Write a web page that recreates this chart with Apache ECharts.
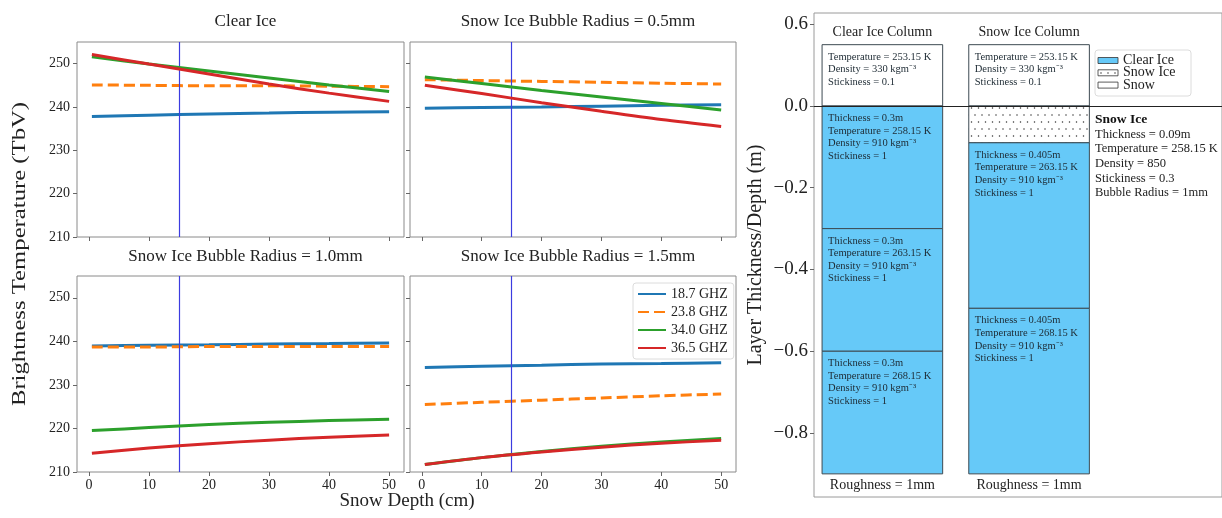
<!DOCTYPE html>
<html>
<head>
<meta charset="utf-8">
<script src="https://cdn.jsdelivr.net/npm/echarts@6/dist/echarts.min.js"></script>
<style>html,body{margin:0;padding:0;background:#fff;}#c{width:1222px;height:518px;}</style>
</head>
<body>
<div id="c"></div>
<script>
// ---------- DATA ----------
const snowDepth = [0.5, 10, 20, 30, 40, 50];
const frequencies = ['18.7 GHZ', '23.8 GHZ', '34.0 GHZ', '36.5 GHZ'];
const panelTitles = ['Clear Ice', 'Snow Ice Bubble Radius = 0.5mm', 'Snow Ice Bubble Radius = 1.0mm', 'Snow Ice Bubble Radius = 1.5mm'];
const tbClearIce = [
  [237.8, 238.1, 238.4, 238.6, 238.8, 238.9],
  [245.1, 245.0, 244.9, 244.9, 244.8, 244.7],
  [251.6, 249.9, 248.3, 246.7, 245.1, 243.6],
  [252.1, 249.9, 247.6, 245.3, 243.2, 241.3]
];
const tbBubble05 = [
  [239.7, 239.9, 240.0, 240.2, 240.4, 240.5],
  [246.3, 246.1, 245.9, 245.7, 245.5, 245.3],
  [246.9, 245.4, 243.8, 242.3, 240.8, 239.3],
  [245.0, 243.1, 241.0, 239.0, 237.1, 235.5]
];
const tbBubble10 = [
  [238.9, 239.1, 239.2, 239.4, 239.5, 239.6],
  [238.7, 238.7, 238.8, 238.8, 238.8, 238.8],
  [219.5, 220.2, 220.9, 221.4, 221.8, 222.1],
  [214.3, 215.5, 216.5, 217.3, 218.0, 218.5]
];
const tbBubble15 = [
  [234.0, 234.3, 234.5, 234.8, 234.9, 235.1],
  [225.5, 226.0, 226.5, 227.0, 227.5, 227.9],
  [211.7, 213.3, 214.7, 215.9, 216.9, 217.7],
  [211.7, 213.3, 214.6, 215.7, 216.6, 217.3]
];
const tbTicks = [210, 220, 230, 240, 250];
const depthTicks = [0, 10, 20, 30, 40, 50];
const snowDepthMarker = 15;

// right panel: layer columns
const columnTitles = ['Clear Ice Column', 'Snow Ice Column'];
const columnFooters = ['Roughness = 1mm', 'Roughness = 1mm'];
const columnTop = [0.15, 0.15];
const columnBottom = [-0.9, -0.9];
const layerColumn = [0, 0, 0, 0, 1, 1, 1, 1];
const layerTop = [0.15, 0, -0.3, -0.6, 0.15, 0, -0.09, -0.495];
const layerBottom = [0, -0.3, -0.6, -0.9, 0, -0.09, -0.495, -0.9];
const layerType = ['snow', 'clear', 'clear', 'clear', 'snow', 'snowice', 'clear', 'clear'];
const layerLabels = [
  'Temperature = 253.15 K\nDensity = 330 kgm\u207B\u00B3\nStickiness = 0.1',
  'Thickness = 0.3m\nTemperature = 258.15 K\nDensity = 910 kgm\u207B\u00B3\nStickiness = 1',
  'Thickness = 0.3m\nTemperature = 263.15 K\nDensity = 910 kgm\u207B\u00B3\nStickiness = 1',
  'Thickness = 0.3m\nTemperature = 268.15 K\nDensity = 910 kgm\u207B\u00B3\nStickiness = 1',
  'Temperature = 253.15 K\nDensity = 330 kgm\u207B\u00B3\nStickiness = 0.1',
  '',
  'Thickness = 0.405m\nTemperature = 263.15 K\nDensity = 910 kgm\u207B\u00B3\nStickiness = 1',
  'Thickness = 0.405m\nTemperature = 268.15 K\nDensity = 910 kgm\u207B\u00B3\nStickiness = 1'
];
const depthTickValues = [0.2, 0, -0.2, -0.4, -0.6, -0.8];
const depthTickLabels = ['0.6', '0.0', '\u22120.2', '\u22120.4', '\u22120.6', '\u22120.8'];
const legendMaterials = ['Clear Ice', 'Snow Ice', 'Snow'];
const snowIceNoteTitle = 'Snow Ice';
const snowIceNoteLines = ['Thickness = 0.09m', 'Temperature = 258.15 K', 'Density = 850', 'Stickiness = 0.3', 'Bubble Radius = 1mm'];

// ---------- STYLE ----------
const FONT = 'Liberation Serif';
const lineColors = ['#1f77b4', '#ff7f0e', '#2ca02c', '#d62728'];
const clearIceColor = '#66c9f8';

// dotted pattern for snow ice
const pat = document.createElement('canvas');
pat.width = 14; pat.height = 14;
(function () {
  const g = pat.getContext('2d');
  g.fillStyle = '#fff'; g.fillRect(0, 0, 14, 14);
  g.fillStyle = '#333';
  [[2, 3], [9, 3], [5.5, 10], [12.5, 10]].forEach(p => { g.beginPath(); g.arc(p[0], p[1], 0.75, 0, Math.PI * 2); g.fill(); });
})();
const dotFill = { type: 'pattern', image: pat, repeat: 'repeat' };
function fillFor(t) { return t === 'clear' ? clearIceColor : (t === 'snowice' ? dotFill : '#ffffff'); }

const panelData = [tbClearIce, tbBubble05, tbBubble10, tbBubble15];
const gridPos = [
  { left: 77, top: 42, width: 327, height: 195 },
  { left: 410, top: 42, width: 326, height: 195 },
  { left: 77, top: 276, width: 327, height: 196 },
  { left: 410, top: 276, width: 326, height: 196 }
];

const grids = [], xAxes = [], yAxes = [], series = [], titles = [];
gridPos.forEach((g, p) => {
  grids.push(Object.assign({ show: true, borderColor: '#8a8a8a', borderWidth: 1, backgroundColor: 'transparent' }, g));
  const bottomRow = p >= 2, leftCol = p % 2 === 0;
  xAxes.push({
    type: 'value', gridIndex: p, min: -1.98, max: 52.48, position: 'bottom',
    axisLine: { show: false, onZero: false }, splitLine: { show: false },
    axisTick: { show: true, inside: false, length: 4, lineStyle: { color: '#666' }, customValues: depthTicks },
    axisLabel: { show: bottomRow, customValues: depthTicks, fontFamily: FONT, fontSize: 14, color: '#222', margin: 6 }
  });
  yAxes.push({
    type: 'value', gridIndex: p, min: 210, max: 255, position: 'left',
    axisLine: { show: false, onZero: false }, splitLine: { show: false },
    axisTick: { show: true, inside: false, length: 4, lineStyle: { color: '#666' }, customValues: tbTicks },
    axisLabel: { show: leftCol, customValues: tbTicks, fontFamily: FONT, fontSize: 14, color: '#222', margin: 7 }
  });
  titles.push({
    text: panelTitles[p], left: g.left + g.width / 2, top: g.top - (p < 2 ? 34 : 33), textAlign: 'center',
    textStyle: { fontFamily: FONT, fontSize: 17, fontWeight: 'normal', color: '#222' }
  });
  panelData[p].forEach((vals, f) => {
    const s = {
      type: 'line', name: frequencies[f], xAxisIndex: p, yAxisIndex: p,
      data: snowDepth.map((x, i) => [x, vals[i]]),
      symbol: 'none', smooth: 0.3, silent: true, z: 3 + f,
      lineStyle: { color: lineColors[f], width: 3, type: f === 1 ? [11, 5] : 'solid' },
      itemStyle: { color: lineColors[f] }
    };
    if (f === 0) {
      s.markLine = {
        silent: true, symbol: 'none', label: { show: false }, animation: false,
        lineStyle: { color: '#3c3ce0', width: 1.2, type: 'solid' },
        data: [{ xAxis: snowDepthMarker }]
      };
    }
    series.push(s);
  });
});

// right panel grid (index 4)
grids.push({ show: true, left: 814, top: 13, width: 408, height: 484, borderColor: '#9a9a9a', borderWidth: 1 });
xAxes.push({ type: 'value', gridIndex: 4, min: -0.466, max: 2.315, show: false, axisLine: { onZero: false } });
yAxes.push({
  type: 'value', gridIndex: 4, min: -0.9566, max: 0.2275, position: 'left',
  name: 'Layer Thickness/Depth (m)', nameLocation: 'middle', nameGap: 48,
  nameTextStyle: { fontFamily: FONT, fontSize: 20, color: '#222' },
  axisLine: { show: false, onZero: false }, splitLine: { show: false },
  axisTick: { show: true, inside: false, length: 4, lineStyle: { color: '#666' }, customValues: depthTickValues },
  axisLabel: {
    customValues: depthTickValues, fontFamily: FONT, fontSize: 19, color: '#222', margin: 6,
    formatter: v => { const i = depthTickValues.findIndex(t => Math.abs(t - v) < 1e-6); return i >= 0 ? depthTickLabels[i] : ''; }
  }
});
const COLW = 0.822;
series.push({
  type: 'custom', name: 'layers', xAxisIndex: 4, yAxisIndex: 4, silent: true, z: 3,
  data: layerColumn.map((c, i) => [c, layerTop[i], layerBottom[i]]),
  renderItem: (params, api) => {
    const i = params.dataIndex;
    const c = api.value(0);
    const p1 = api.coord([c - COLW / 2, api.value(1)]);
    const p2 = api.coord([c + COLW / 2, api.value(2)]);
    return {
      type: 'group', children: [
        { type: 'rect', shape: { x: p1[0], y: p1[1], width: p2[0] - p1[0], height: p2[1] - p1[1] },
          style: { fill: fillFor(layerType[i]), stroke: '#3d4a52', lineWidth: 1 } },
        { type: 'text', x: p1[0] + 6, y: p1[1] + 6,
          style: { text: layerLabels[i], fontFamily: FONT, fontSize: 10.5, lineHeight: 12.6, fill: '#1d2a33' } }
      ]
    };
  }
});
series.push({
  type: 'custom', name: 'columns', xAxisIndex: 4, yAxisIndex: 4, silent: true, z: 4,
  data: columnTitles.map((t, c) => [c, columnTop[c], columnBottom[c]]),
  renderItem: (params, api) => {
    const c = api.value(0);
    const pt = api.coord([c, api.value(1)]);
    const pb = api.coord([c, api.value(2)]);
    return {
      type: 'group', children: [
        { type: 'text', x: pt[0], y: pt[1] - 12, style: { text: columnTitles[params.dataIndex], fontFamily: FONT, fontSize: 14, fill: '#222', align: 'center', verticalAlign: 'middle' } },
        { type: 'text', x: pb[0], y: pb[1] + 11, style: { text: columnFooters[params.dataIndex], fontFamily: FONT, fontSize: 14, fill: '#222', align: 'center', verticalAlign: 'middle' } }
      ]
    };
  },
  markLine: {
    silent: true, symbol: 'none', label: { show: false }, animation: false,
    lineStyle: { color: '#222', width: 1, type: 'solid' },
    data: [{ yAxis: 0 }]
  }
});

// graphic: shared axis names, right legend, snow-ice note
const matFills = [clearIceColor, dotFill, '#ffffff'];
const graphics = [
  { type: 'text', x: 20, y: 254, rotation: Math.PI / 2, scaleX: 1.3, style: { text: 'Brightness Temperature (TbV)', fontFamily: FONT, fontSize: 19, fill: '#222', align: 'center', verticalAlign: 'middle' } },
  { type: 'text', x: 407, y: 501, style: { text: 'Snow Depth (cm)', fontFamily: FONT, fontSize: 19, fill: '#222', align: 'center', verticalAlign: 'middle' } },
  { type: 'rect', shape: { x: 1095, y: 50, width: 96, height: 46, r: 3 }, style: { fill: '#fff', stroke: '#dcdcdc', lineWidth: 1 } }
];
legendMaterials.forEach((m, i) => {
  const cy = 60.5 + i * 12.3;
  graphics.push({ type: 'rect', shape: { x: 1098, y: cy - 3, width: 20, height: 6 }, style: { fill: matFills[i], stroke: '#333', lineWidth: 0.8 } });
  graphics.push({ type: 'text', x: 1123, y: cy, style: { text: m, fontFamily: FONT, fontSize: 14, fill: '#222', verticalAlign: 'middle' } });
});
graphics.push({ type: 'text', x: 1095, y: 120, style: { text: snowIceNoteTitle, fontFamily: FONT, fontSize: 13.5, fontWeight: 'bold', fill: '#111', verticalAlign: 'middle' } });
snowIceNoteLines.forEach((t, i) => {
  graphics.push({ type: 'text', x: 1095, y: 134.5 + i * 14.6, style: { text: t, fontFamily: FONT, fontSize: 12.5, fill: '#222', verticalAlign: 'middle' } });
});

const chart = echarts.init(document.getElementById('c'), null, { renderer: 'canvas' });
chart.setOption({
  animation: false,
  backgroundColor: '#fff',
  title: titles,
  grid: grids,
  xAxis: xAxes,
  yAxis: yAxes,
  legend: {
    data: frequencies, orient: 'vertical', left: 633, top: 283, selectedMode: false,
    itemWidth: 28, itemHeight: 12, itemGap: 4, padding: [4, 6, 4, 4],
    borderColor: '#dcdcdc', borderWidth: 1, borderRadius: 3, backgroundColor: '#fff',
    itemStyle: { opacity: 0 },
    textStyle: { fontFamily: FONT, fontSize: 14, color: '#222' }
  },
  graphic: graphics,
  series: series
});
</script>
</body>
</html>
